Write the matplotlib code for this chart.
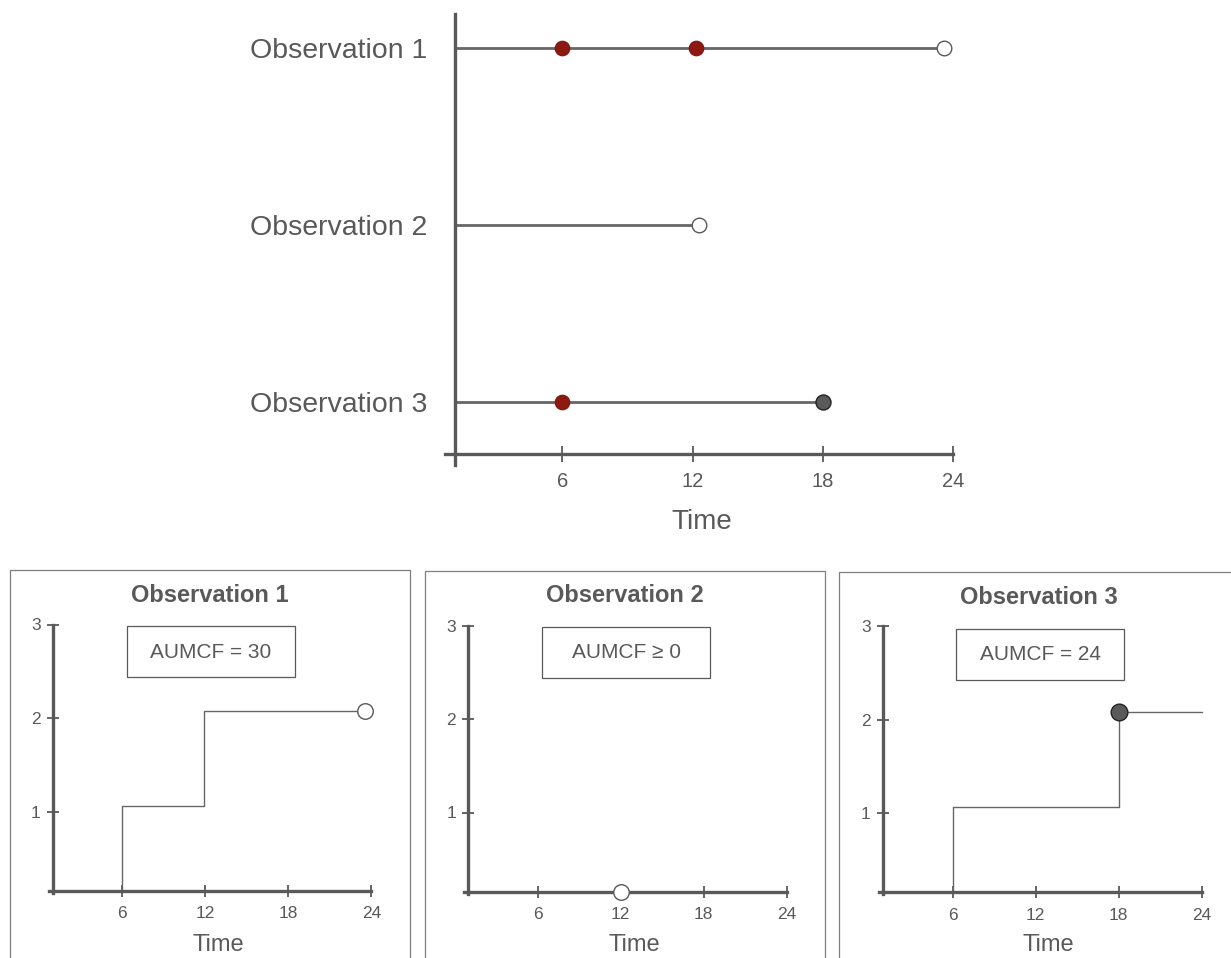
import matplotlib.pyplot as plt
from matplotlib.patches import Rectangle

plt.rcParams['font.family'] = ['Liberation Sans', 'DejaVu Sans']

W, H = 1231, 958
GREY = '#595959'
LINE = '#666666'
RED = '#8c1a10'

# top panel: one timeline per observation
obs_labels = ['Observation 1', 'Observation 2', 'Observation 3']
obs_rows = [3, 2, 1]
event_times = [[6, 12.15], [], [6]]
end_times = [23.6, 12.3, 18]
end_censored = [True, True, False]
time_ticks = [6, 12, 18, 24]

# bottom panels: cumulative event count per observation
panel_titles = ['Observation 1', 'Observation 2', 'Observation 3']
aumcf_labels = ['AUMCF = 30', 'AUMCF \u2265 0', 'AUMCF = 24']
step_x = [[6, 6, 11.9, 11.9, 23.5], [], [6, 6, 18, 18, 24]]
step_y = [[0.15, 1.06, 1.06, 2.08, 2.08], [], [0.15, 1.06, 1.06, 2.08, 2.08]]
end_x = [23.5, 12, 18]
end_y = [2.08, 0.15, 2.08]
count_ticks = [1, 2, 3]


def px(x, y):
    return x / W, 1 - y / H


def add_px_axes(fig, x_zero, y_zero, sx, sy, xlim, ylim):
    # place an axes so that data (0, 0) lands on pixel (x_zero, y_zero)
    left = x_zero + xlim[0] * sx
    right = x_zero + xlim[1] * sx
    top = y_zero - ylim[1] * sy
    bottom = y_zero - ylim[0] * sy
    ax = fig.add_axes([left / W, 1 - bottom / H, (right - left) / W, (bottom - top) / H])
    ax.set_xlim(xlim)
    ax.set_ylim(ylim)
    ax.set_facecolor('none')
    for s in ['top', 'right']:
        ax.spines[s].set_visible(False)
    return ax


fig = plt.figure(figsize=(W / 100, H / 100), dpi=100)

# ---- top timeline chart
ax = add_px_axes(fig, 432.1, 579, 21.7, 177, (0, 25), (0.55, 3.25))
y_axis_x, x_axis_y = 1.05, 0.706
ax.spines['left'].set_position(('data', y_axis_x))
ax.spines['left'].set_bounds(0.644, 3.19)
ax.spines['bottom'].set_position(('data', x_axis_y))
ax.spines['bottom'].set_bounds(0.6, 24)
for s in ['left', 'bottom']:
    ax.spines[s].set_linewidth(2.4)
    ax.spines[s].set_color(GREY)
ax.set_xticks(time_ticks)
ax.set_yticks(obs_rows)
ax.set_yticklabels(obs_labels)
ax.tick_params(axis='x', direction='inout', length=12, width=1.3, color=GREY,
               labelsize=14.5, labelcolor=GREY, pad=7)
ax.tick_params(axis='y', length=0, labelsize=20.5, labelcolor=GREY, pad=20)

for row, evs, end, cens in zip(obs_rows, event_times, end_times, end_censored):
    ax.plot([y_axis_x, end], [row, row], color=LINE, lw=2, zorder=2)
    if evs:
        ax.plot(evs, [row] * len(evs), 'o', ms=10.5, mfc=RED, mec='#7a1710', mew=0.8, zorder=3)
    if cens:
        ax.plot(end, row, 'o', ms=10.5, mfc='white', mec=GREY, mew=1.0, zorder=3)
    else:
        ax.plot(end, row, 'o', ms=10.8, mfc='#5a5a5a', mec='#222222', mew=1.0, zorder=3)

fig.text(*px(702, 522), 'Time', ha='center', va='center', fontsize=20, color=GREY)

# ---- bottom step panels
frame_left = [9.5, 425, 839.3]
frame_top = [570, 571, 572.5]
x_zero = [39.3, 454.6, 869.5]
y_zero = [905, 906, 906.5]

for i in range(3):
    fl, ft = frame_left[i], frame_top[i]
    fig.add_artist(Rectangle(px(fl, ft + 420), 400 / W, 420 / H, transform=fig.transFigure,
                             fill=False, ec='#7f7f7f', lw=0.9, clip_on=False))

    pax = add_px_axes(fig, x_zero[i], y_zero[i], 13.84, 93.5, (0, 25.5), (0, 3.2))
    pax.spines['left'].set_position(('data', 1.0))
    pax.spines['left'].set_bounds(0.13, 3.0)
    pax.spines['bottom'].set_position(('data', 0.15))
    pax.spines['bottom'].set_bounds(0.7, 24)
    for s in ['left', 'bottom']:
        pax.spines[s].set_linewidth(2.4)
        pax.spines[s].set_color(GREY)
    pax.set_xticks(time_ticks)
    pax.set_yticks(count_ticks)
    pax.tick_params(axis='x', direction='inout', length=9, width=1.3, color=GREY,
                    labelsize=12.5, labelcolor=GREY, pad=6.5)
    pax.tick_params(axis='y', direction='inout', length=8, width=1.3, color=GREY,
                    labelsize=12.5, labelcolor=GREY, pad=5)

    if step_x[i]:
        pax.plot(step_x[i], step_y[i], color=LINE, lw=1.0, zorder=2)
    if end_censored[i]:
        pax.plot(end_x[i], end_y[i], 'o', ms=11.2, mfc='white', mec=GREY, mew=1.0,
                 zorder=3, clip_on=False)
    else:
        pax.plot(end_x[i], end_y[i], 'o', ms=12, mfc='#5a5a5a', mec='#222222', mew=1.0,
                 zorder=3, clip_on=False)

    fig.text(*px(fl + 200, ft + 25), panel_titles[i], ha='center', va='center',
             fontsize=17, fontweight='bold', color=GREY)
    fig.add_artist(Rectangle(px(fl + 117, ft + 107), 168 / W, 51 / H, transform=fig.transFigure,
                             fill=False, ec=GREY, lw=0.9))
    fig.text(*px(fl + 201, ft + 82), aumcf_labels[i], ha='center', va='center',
             fontsize=15, color=GREY)
    fig.text(*px(fl + 209, 945), 'Time', ha='center', va='center', fontsize=17, color=GREY)

fig.savefig('out.png', dpi=100)
